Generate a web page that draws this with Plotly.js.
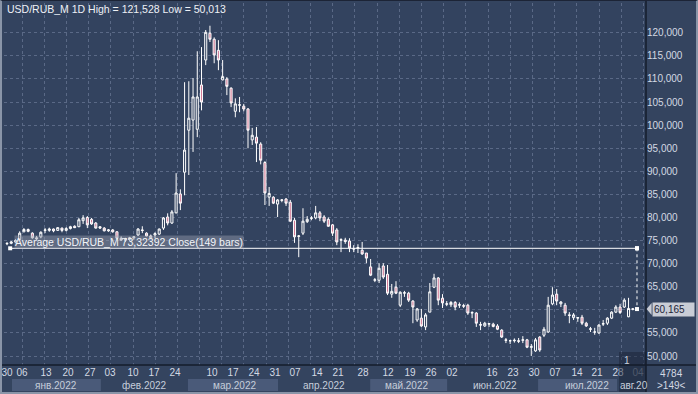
<!DOCTYPE html>
<html><head><meta charset="utf-8">
<script src="https://cdn.plot.ly/plotly-3.0.1.min.js"></script>
<style>
html,body{margin:0;padding:0;background:#34445f;overflow:hidden}
#wrap{position:relative;width:698px;height:394px}
#chart{width:698px;height:394px}
#frame{position:absolute;left:0;top:0;width:698px;height:394px;box-sizing:border-box;border-left:2px solid #8a95a8;border-right:2px solid #8a95a8;border-bottom:2px solid #8a95a8;border-top:1px solid #1c2436;pointer-events:none}
</style></head><body>
<div id="wrap"><div id="chart"></div><div id="frame"></div></div>
<script>
// ---- data (USD/RUB_M daily) ----
const symbol = 'USD/RUB_M';
const openP  = [74.3,74.4,74.7,75.2,76.9,77.4,76.6,75.6,75.8,77.2,77.2,77.5,77.2,77.7,77.2,77.6,78.1,78.0,79.3,80.0,79.6,78.8,78.0,77.7,77.1,77.3,76.9,75.5,75.1,75.3,
                75.6,76.2,77.3,76.6,76.0,76.2,76.4,77.7,80.1,78.8,81.0,85.1,89.8,98.9,101.1,99.1,108.7,114.1,119.9,118.6,116.2,109.8,110.0,108.0,103.0,104.3,104.1,103.5,96.8,97.4,
                95.9,91.9,84.4,84.4,82.9,83.7,84.0,83.3,79.4,75.9,76.6,79.1,79.8,79.9,81.0,80.1,79.6,78.4,77.3,75.2,75.1,74.9,73.2,73.3,72.9,72.3,69.3,66.4,66.4,69.5,
                67.7,63.4,64.9,61.0,63.6,63.6,61.9,57.8,58.2,56.3,59.5,64.9,66.9,62.5,61.2,61.1,61.6,61.0,60.9,61.0,59.3,59.3,56.8,56.5,56.9,56.9,56.5,55.6,53.5,53.3,
                53.3,53.3,53.4,53.5,51.9,51.1,54.1,54.5,55.2,61.3,63.4,61.3,61.0,58.9,58.3,58.2,58.4,57.1,55.9,55.2,55.0,56.9,57.1,58.2,59.5,60.6,60.6,58.5,60.1,60.2];
const highP  = [74.6,74.9,75.3,77.0,77.7,77.6,76.8,76.0,77.0,77.7,77.8,77.6,77.9,77.8,77.9,78.2,78.3,79.9,80.5,80.3,79.9,79.0,78.1,77.9,77.5,77.5,77.0,75.9,75.6,75.8,
                76.0,77.7,78.1,76.8,76.3,76.8,77.6,80.1,80.9,81.6,89.6,86.1,109.3,109.5,110.2,116.0,116.9,120.6,121.528,119.0,118.4,114.1,110.4,108.2,105.8,106.1,104.6,103.7,99.4,99.6,
                96.3,92.2,86.6,84.6,84.0,84.0,84.2,83.8,79.9,76.2,82.0,80.3,80.3,82.5,81.4,80.5,80.0,78.6,77.7,75.5,75.6,75.5,74.0,74.2,74.7,72.3,71.0,66.9,70.1,70.1,
                69.7,65.6,66.2,64.0,64.1,63.9,62.1,60.4,60.2,59.3,65.8,67.8,67.1,63.4,61.9,61.9,61.9,61.6,61.3,61.3,59.7,59.5,57.4,57.4,57.1,57.2,56.9,55.8,53.9,53.5,
                53.8,53.9,54.3,53.7,52.6,53.9,54.3,56.3,62.8,64.9,64.5,61.9,61.5,59.5,59.3,58.4,58.9,57.4,56.3,56.1,56.9,57.8,58.4,59.7,61.0,61.3,62.5,62.6,60.4,60.5];
const lowP   = [74.0,74.2,74.5,75.0,76.8,76.8,75.4,75.0,75.5,76.6,76.9,76.8,77.1,76.8,77.0,77.4,77.7,77.9,78.6,77.7,78.4,77.6,77.5,77.0,76.9,76.7,75.3,74.9,74.7,74.9,
                75.2,76.0,76.6,75.9,75.3,75.5,76.2,77.3,78.3,78.6,80.9,81.6,84.8,89.2,94.2,97.4,103.2,113.0,118.0,113.4,111.9,109.7,106.5,103.9,101.7,102.8,103.0,95.0,95.7,92.0,
                91.5,82.7,82.5,82.9,80.1,83.3,82.5,79.0,74.5,71.4,76.2,78.8,79.4,79.6,79.2,78.8,78.0,76.0,74.0,72.5,74.3,72.5,72.5,72.3,71.9,70.1,67.3,66.0,65.8,66.7,
                63.2,62.6,63.4,60.6,62.8,61.7,57.1,57.4,56.3,55.6,59.5,64.7,61.0,60.4,60.8,60.6,59.9,60.4,60.4,58.9,58.2,56.3,55.6,56.3,56.3,56.2,55.6,53.9,52.8,52.6,
                52.9,52.8,52.8,51.7,50.013,50.9,50.9,54.1,55.0,61.0,61.0,60.6,58.7,57.1,57.8,57.4,56.7,56.3,55.2,54.6,54.8,56.5,56.7,58.0,59.3,59.1,60.4,58.4,59.9,59.9];
const closeP = [74.4,74.7,75.0,76.6,77.4,77.0,75.6,75.4,76.8,77.3,77.5,77.1,77.8,77.2,77.6,78.0,77.8,79.5,79.9,78.4,78.6,77.7,77.7,77.1,77.3,76.9,75.5,75.1,75.3,75.6,
                75.8,77.5,77.2,76.0,75.6,76.5,77.5,79.9,78.8,81.2,85.3,83.1,94.6,101.5,106.1,106.1,105.0,120.1,118.6,115.2,114.1,110.5,108.4,104.8,104.6,104.4,103.5,98.9,97.8,96.1,
                92.4,85.3,85.2,83.1,83.8,83.8,83.1,79.2,75.8,76.0,79.2,79.6,79.9,81.0,79.9,79.2,78.1,76.6,74.7,75.1,74.8,73.4,73.2,73.5,72.1,71.2,67.5,66.5,69.0,67.1,
                63.6,64.0,63.6,63.8,63.7,62.1,60.6,60.2,56.5,58.9,63.9,66.9,62.1,61.5,61.3,61.6,60.6,61.1,60.8,59.3,59.4,57.1,56.7,57.1,57.0,56.4,55.8,54.1,53.4,53.3,
                53.4,53.2,53.5,51.9,52.0,53.5,51.3,55.8,61.0,63.2,61.9,61.7,59.3,58.8,58.9,58.3,57.1,56.5,55.8,55.2,56.7,57.0,58.2,59.5,60.6,59.4,62.1,60.3,60.2,60.165];
const avgValue = 73.32392;
const avgBars = 149;
const priceTicks = [50,55,60,65,70,75,80,85,90,95,100,105,110,115,120];
// day-of-month labels (bar index where each label sits)
const dayTickIdx  = [0,3.55,9.22,14.43,19.63,24.36,29.8,34.77,39.74,48.49,53.45,58.42,63.39,68.12,73.32,78.29,84.2,90.11,95.32,100.28,105.25,114.71,119.68,124.65,129.61,134.82,139.55,144.51,149.24];
const dayTickText = ['30','06','13','20','27','03','10','17','24','10','17','24','31','07','14','21','28','12','19','26','02','16','23','30','07','14','21','28','04'];
const monthLabels = ['янв.2022','фев.2022','мар.2022','апр.2022','май.2022','июн.2022','июл.2022','авг.20'];
const monthLabelIdx = [11.6,32.6,53.7,75.0,94.6,115.4,137.2,144.6];
const volumeText = '4784';
const barsText = '>149<';

// ---- helpers ----
const fmt = (v, d) => v.toFixed(d).replace('.', ',');
const idx = openP.map((_, i) => i);
const lastIdx = idx[idx.length - 1];
const closeValue = closeP[closeP.length - 1];
const hiVal = Math.max(...highP), loVal = Math.min(...lowP);
// the price tag hides the axis label it sits on
const priceTickText = priceTicks.map(v => Math.abs(v - closeValue) < 2.5 ? '' : fmt(v, 3));
// last day label sits in the shaded corner -> dimmed
const dayTickShown = dayTickText.map((t, k) => k === dayTickText.length - 1 ? `<span style="color:#7d889c">${t}</span>` : t);

// ---- styling ----
const BG = '#33435f', PANEL = '#34445f', GRID = '#5a6986', TXT = '#d3d9e3';
const FONT = 'Liberation Sans, Arial, sans-serif';
const L = 4, R = 52, T = 3, B = 29, W = 698, H = 394;
const PW = W - L - R, PH = H - T - B;
const px2py = y => (H - B - y) / PH;      // pixel row -> paper y
const px2pxp = x => (x - L) / PW;         // pixel col -> paper x

const traces = [
  {
    type: 'candlestick', x: idx, open: openP, high: highP, low: lowP, close: closeP,
    increasing: {line: {color: '#ffffff', width: 1}, fillcolor: BG},
    decreasing: {line: {color: '#ffffff', width: 1}, fillcolor: '#d27a96'},
    whiskerwidth: 0, hoverinfo: 'skip', showlegend: false
  },
  { // grid carrier for vertical grid lines
    type: 'scatter', x: [idx[0], lastIdx], y: [null, null], xaxis: 'x2', yaxis: 'y',
    mode: 'lines', hoverinfo: 'skip', showlegend: false
  },
  { // average line
    type: 'scatter', x: [0.75, lastIdx], y: [avgValue, avgValue], mode: 'lines+markers',
    line: {color: '#ffffff', width: 1}, marker: {symbol: 'square', size: 4, color: '#ffffff'},
    hoverinfo: 'skip', showlegend: false
  },
  { // drop to close
    type: 'scatter', x: [lastIdx, lastIdx], y: [avgValue, closeValue], mode: 'lines+markers',
    line: {color: '#ffffff', width: 1, dash: 'dot'}, marker: {symbol: 'square', size: 4, color: '#ffffff'},
    hoverinfo: 'skip', showlegend: false
  }
];

const xr = [-0.71, 151.13];
const shapes = [];
// month bands (alternate months)
[[1.18, 22.2], [42.8, 64.1], [85.9, 104.1], [125.6, 144.3]].forEach(b => shapes.push({
  type: 'rect', xref: 'x', yref: 'paper', x0: b[0], x1: b[1], y0: px2py(379), y1: px2py(391),
  fillcolor: '#4a5a79', line: {width: 0}, layer: 'below'
}));
// darker shaded corner
shapes.push({type: 'rect', xref: 'paper', yref: 'paper', x0: px2pxp(619), x1: 1, y0: px2py(352), y1: px2py(392),
  fillcolor: 'rgba(22,30,48,0.45)', line: {width: 0}, layer: 'above'});
// separators
shapes.push({type: 'line', xref: 'paper', yref: 'paper', x0: 1, x1: 1, y0: px2py(H), y1: px2py(0), line: {color: '#151c2b', width: 1.5}});
shapes.push({type: 'line', xref: 'paper', yref: 'paper', x0: px2pxp(0), x1: px2pxp(W), y0: 0, y1: 0, line: {color: '#151c2b', width: 1.5}});
// price tag arrow
const tipW = 5 / PW;
shapes.push({type: 'path', xref: 'paper', yref: 'y',
  path: `M ${1 + 0.6/PW},${closeValue} L ${1 + tipW + 0.6/PW},${closeValue + 1.3} L ${1 + tipW + 0.6/PW},${closeValue - 1.3} Z`,
  fillcolor: '#c9cdd6', line: {width: 0}});

const annotations = [
  {xref: 'paper', yref: 'paper', x: px2pxp(5), y: px2py(9), xanchor: 'left', yanchor: 'middle', showarrow: false,
   text: `${symbol} 1D High = ${fmt(hiVal, 3)} Low = ${fmt(loVal, 3)}`, font: {family: FONT, size: 10.5, color: '#eef1f6'}},
  {xref: 'x', yref: 'y', x: 1.6, y: avgValue, yshift: 6, xanchor: 'left', yanchor: 'middle', showarrow: false,
   text: `Average ${symbol} ${fmt(avgValue, 5)} Close(${avgBars} bars)`, bgcolor: 'rgba(150,158,172,0.45)', borderpad: 0,
   font: {family: FONT, size: 10.5, color: '#f2f4f8'}},
  {xref: 'paper', yref: 'y', x: 1 + 5.5/PW, y: closeValue, xanchor: 'left', yanchor: 'middle', showarrow: false,
   text: fmt(closeValue, 3) + '&nbsp;&nbsp;&nbsp;', bgcolor: '#c9cdd6', borderpad: 1, font: {family: FONT, size: 10, color: '#1c2438'}},
  {xref: 'paper', yref: 'paper', x: px2pxp(627), y: px2py(360), xanchor: 'center', yanchor: 'middle', showarrow: false,
   text: '1', font: {family: FONT, size: 10, color: '#c8d0dc'}},
  {xref: 'paper', yref: 'paper', x: px2pxp(672), y: px2py(373), xanchor: 'center', yanchor: 'middle', showarrow: false,
   text: volumeText, font: {family: FONT, size: 10, color: TXT}},
  {xref: 'paper', yref: 'paper', x: px2pxp(672), y: px2py(385), xanchor: 'center', yanchor: 'middle', showarrow: false,
   text: barsText, font: {family: FONT, size: 10, color: TXT}}
];
monthLabels.forEach((m, k) => annotations.push({
  xref: 'x', yref: 'paper', x: monthLabelIdx[k], y: px2py(385), xanchor: k === monthLabels.length - 1 ? 'left' : 'center',
  yanchor: 'middle', showarrow: false, text: m, font: {family: FONT, size: 10, color: '#c6cedb'}
}));

const layout = {
  width: W, height: H, margin: {l: L, r: R, t: T, b: B, pad: 0},
  paper_bgcolor: PANEL, plot_bgcolor: BG, separators: ', ', showlegend: false,
  font: {family: FONT, size: 10, color: TXT},
  xaxis: {range: xr, tickmode: 'array', tickvals: dayTickIdx, ticktext: dayTickShown, showgrid: false, zeroline: false,
          ticks: '', showline: false, rangeslider: {visible: false}, fixedrange: true, tickangle: 0,
          tickfont: {family: FONT, size: 10, color: TXT}},
  xaxis2: {overlaying: 'x', range: xr, tickmode: 'linear', tick0: 3.55, dtick: 5.25, showticklabels: false, ticks: '',
           showgrid: true, gridcolor: GRID, griddash: '3px,3px', gridwidth: 1, zeroline: false, fixedrange: true, anchor: 'y'},
  yaxis: {side: 'right', range: [48.05, 126.45], tickmode: 'array', tickvals: priceTicks, ticktext: priceTickText,
          showgrid: true, gridcolor: GRID, griddash: '3px,3px', gridwidth: 1, zeroline: false, ticks: '', showline: false,
          fixedrange: true, tickfont: {family: FONT, size: 10, color: TXT}},
  shapes: shapes, annotations: annotations
};
Plotly.newPlot('chart', traces, layout, {staticPlot: true, displayModeBar: false});
</script>
</body></html>
